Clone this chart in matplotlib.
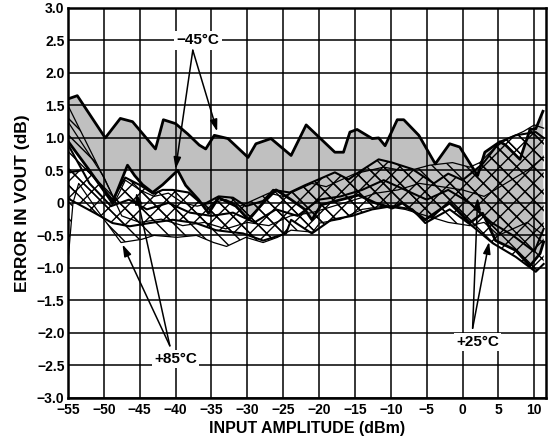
import matplotlib.pyplot as plt
import numpy as np

plt.rcParams['font.family'] = ['Liberation Sans', 'DejaVu Sans']
plt.rcParams['font.weight'] = 'bold'
plt.rcParams['hatch.linewidth'] = 1.0

# -45 C : limites de la zone grise
x45u = [-55, -53.7, -49.8, -47.7, -46, -42.8, -41.7, -40, -38.3, -36.7, -35.8, -34.6, -32.7,
        -29.9, -28.8, -26.7, -23.9, -21.8, -17.8, -16.6, -15.7, -14.7, -12.6, -11.7, -10.8,
        -9.1, -8.2, -6.1, -3.8, -1.8, -0.4, 2.1, 3.1, 5.2, 6.0, 8.0, 9.4, 10.2, 11.2]
y45u = [1.6, 1.65, 1.0, 1.3, 1.25, 0.83, 1.28, 1.22, 1.06, 0.89, 0.83, 1.04, 0.99,
        0.70, 0.91, 0.99, 0.73, 1.2, 0.78, 0.78, 1.09, 1.13, 0.99, 1.0, 0.88,
        1.28, 1.28, 1.04, 0.6, 0.91, 0.86, 0.42, 0.78, 0.94, 0.89, 0.67, 1.13, 1.14, 1.41]
x45l = [-55, -52, -48.8, -46.7, -45.7, -44.6, -43.2, -41.8, -39.7, -38.6, -36.8, -35.4, -34,
        -31.6, -29.8, -27.8, -26, -23.9, -22, -21, -19.7, -16.9, -14.5, -12.2, -9.8, -8.4,
        -5.2, -1.8, 1, 2.8, 4.6, 7.4, 9.4, 10.8, 11.3]
y45l = [0.95, 0.5, 0.0, 0.58, 0.42, 0.28, 0.16, 0.28, 0.5, 0.27, 0.05, -0.16, 0.08,
        -0.05, -0.26, 0.0, 0.2, 0.05, -0.1, -0.26, -0.03, 0.05, 0.12, 0.0, -0.08, 0.0,
        -0.26, 0.0, -0.31, -0.16, -0.58, -0.73, -0.97, -0.78, -0.6]

# +25 C : zone quadrillee
x25u = [-55, -54.7, -52.3, -48.8, -47, -44.9, -43.1, -41.8, -40.4, -38.2, -36.2, -34, -32,
        -30.2, -27.8, -26.4, -24.1, -22, -20.1, -17.8, -15.9, -14.5, -11.7, -9.8, -7,
        -4, -2, 0, 2.8, 5.2, 7.4, 10.2, 11.3]
y25u = [0.5, 0.47, 0.52, 0.05, 0.39, 0.27, 0.14, 0.2, 0.2, 0.16, -0.03, 0.1, 0.08,
        -0.05, 0.03, 0.2, 0.16, 0.27, 0.36, 0.47, 0.36, 0.47, 0.67, 0.62, 0.52,
        0.3, 0.45, 0.35, 0.6, 0.94, 1.04, 1.09, 1.0]
x25l = [-55, -54.7, -51.2, -48.8, -46.4, -43.6, -40.4, -37.2, -34.4, -30.6, -27.8, -24.6,
        -23.9, -21, -18.3, -15.4, -12.6, -9.8, -7, -5.2, -1.8, 1.4, 4.2, 7.4, 10.2, 11.3]
y25l = [0.1, 0.05, -0.16, -0.31, -0.36, -0.31, -0.26, -0.31, -0.42, -0.47, -0.58, -0.47,
        -0.26, -0.47, -0.26, -0.2, -0.1, -0.05, -0.1, -0.31, -0.1, -0.36, -0.62, -0.83, -1.06, -0.94]

# +85 C : zone hachuree
x85u = [-55, -48.4, -47, -45, -43, -41, -39, -37, -35, -33, -31, -29, -27, -25, -23, -21,
        -19, -17, -15, -13, -11, -8.5, -6.6, -4.6, -1.4, 1, 2.4, 4.6, 6.5, 8.5, 10, 11.3]
y85u = [1.5, 0.03, 0.35, 0.2, 0.1, 0.15, 0.0, -0.05, 0.0, 0.05, -0.05, 0.05, 0.15, 0.1, 0.2, 0.3,
        0.25, 0.35, 0.45, 0.5, 0.55, 0.5, 0.52, 0.58, 0.62, 0.55, 0.62, 0.86, 1.0, 1.1, 1.2, 1.15]
x85l = [-55, -54.3, -53.5, -51, -49, -47.6, -44.7, -43, -39.8, -37.1, -34.7, -32.9, -30.2,
        -27.8, -25.8, -23.9, -20.9, -19.9, -17, -14, -11, -8, -5, -2, 1, 3, 5, 7, 9, 11.3]
y85l = [-0.9, 0.0, 0.3, -0.1, -0.4, -0.61, -0.56, -0.5, -0.53, -0.5, -0.61, -0.67, -0.53,
        -0.61, -0.53, -0.42, -0.45, -0.31, -0.25, -0.1, -0.05, -0.1, -0.2, -0.3, -0.35, -0.3,
        -0.5, -0.4, -0.3, -0.5]

# courbes intermediaires
x85m = [-55, -50, -47.5, -45, -42, -39, -36, -33, -30, -27, -24, -21, -18, -15, -12, -9,
        -6, -3, 0, 3, 6, 9, 11.3]
y85m = [1.25, 0.4, -0.2, -0.3, -0.25, -0.35, -0.3, -0.4, -0.3, -0.35, -0.2, -0.15, -0.05,
        0.05, 0.15, 0.2, 0.3, 0.25, 0.2, 0.1, 0.3, 0.5, 0.7]
x25m = [-55, -52, -49, -46.5, -44, -41, -38, -35, -32, -29, -26, -23, -20, -17, -14, -11,
        -8, -5, -2, 1, 4, 7, 10, 11.3]
y25m = [0.9, 0.3, -0.05, 0.05, -0.1, 0.0, -0.15, -0.2, -0.15, -0.3, -0.1, -0.2, 0.05, 0.1,
        0.2, 0.35, 0.2, 0.05, 0.2, 0.0, -0.3, -0.5, -0.75, -0.4]

xticks = np.arange(-55, 11, 5)
yticks = np.arange(-3.0, 3.01, 0.5)
ylabels = ['\u22123.0', '\u22122.5', '\u22122.0', '\u22121.5', '\u22121.0', '\u22120.5', '0',
           '0.5', '1.0', '1.5', '2.0', '2.5', '3.0']

fig = plt.figure(figsize=(5.48, 4.43), dpi=100)
ax = fig.add_axes([0.124, 0.102, 0.872, 0.880])

# zone grise -45
ax.fill(np.r_[x45u, x45l[::-1]], np.r_[y45u, y45l[::-1]], color='#c0c0c0', lw=0, zorder=1)
# zones hachurees
ax.fill(np.r_[x85u, x85l[::-1]], np.r_[y85u, y85l[::-1]], facecolor='none',
        edgecolor='black', hatch='\\\\', lw=0, zorder=2)
ax.fill(np.r_[x25u, x25l[::-1]], np.r_[y25u, y25l[::-1]], facecolor='none',
        edgecolor='black', hatch='xx', lw=0, zorder=2)

ax.grid(True, color='black', lw=1.1, zorder=3)
ax.set_axisbelow(False)

for xs, ys in [(x85u, y85u), (x85l, y85l), (x85m, y85m)]:
    ax.plot(xs, ys, color='black', lw=0.9, zorder=4)
for xs, ys in [(x25u, y25u), (x25l, y25l), (x25m, y25m)]:
    ax.plot(xs, ys, color='black', lw=1.5, zorder=4)
for xs, ys in [(x45u, y45u), (x45l, y45l)]:
    ax.plot(xs, ys, color='black', lw=2.0, zorder=5)

ax.set_xlim(-55, 11.6)
ax.set_ylim(-3, 3)
ax.set_xticks(xticks)
ax.set_xticklabels([str(v).replace('-', '\u2212') for v in xticks])
ax.set_yticks(yticks)
ax.set_yticklabels(ylabels)
ax.tick_params(length=0, labelsize=10)
ax.tick_params(axis='x', pad=3.5)
ax.tick_params(axis='y', pad=2.5)
for s in ax.spines.values():
    s.set_linewidth(1.8)
    s.set_zorder(6)

ax.set_xlabel('INPUT AMPLITUDE (dBm)', fontsize=11.5, fontweight='bold', labelpad=3)
ax.set_ylabel('ERROR IN VOUT (dB)', fontsize=12.5, fontweight='bold', labelpad=5)

arr = dict(arrowstyle='-|>,head_length=0.7,head_width=0.22', color='black', lw=1.1,
           shrinkA=0, shrinkB=0)
box = dict(boxstyle='square,pad=0.15', fc='white', ec='none')

ax.text(-36.9, 2.5, '\u221245\u00b0C', ha='center', va='center', fontsize=11,
        fontweight='bold', bbox=box, zorder=8)
for tip in [(-40, 0.52), (-34.2, 1.1)]:
    ax.annotate('', xy=tip, xytext=(-37.6, 2.35), arrowprops=arr, zorder=8)

ax.text(-40, -2.4, '+85\u00b0C', ha='center', va='center', fontsize=11,
        fontweight='bold', bbox=box, zorder=8)
for tip in [(-47.4, -0.64), (-45.5, 0.16)]:
    ax.annotate('', xy=tip, xytext=(-40.8, -2.2), arrowprops=arr, zorder=8)

ax.text(2.1, -2.14, '+25\u00b0C', ha='center', va='center', fontsize=11,
        fontweight='bold', bbox=box, zorder=8)
for tip in [(2.1, 0.08), (3.7, -0.6)]:
    ax.annotate('', xy=tip, xytext=(1.4, -1.93), arrowprops=arr, zorder=8)

fig.savefig('out.png', dpi=100)
